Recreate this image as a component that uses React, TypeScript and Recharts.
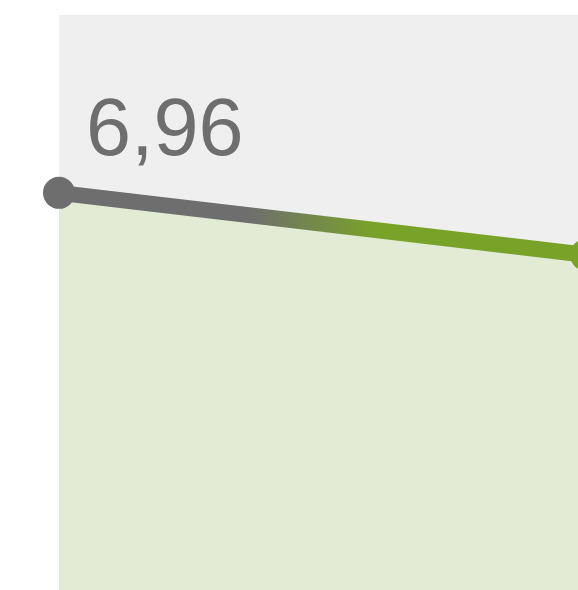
import React from "react";
import { ComposedChart, Area, Line, XAxis, YAxis, CartesianGrid } from "recharts";

const categories = ["A", "B"];
const values = [6.96, 5.9];
const labels = ["6,96", ""];

const data = categories.map((c, i) => ({ name: c, value: values[i], label: labels[i] }));

const GRAY = "#6e6e6e";
const GREEN = "#79a229";

const renderDot = (props: any) => {
  const { cx, cy, index } = props;
  return (
    <circle key={`dot-${index}`} cx={cx} cy={cy} r={16} fill={index === 0 ? GRAY : GREEN} />
  );
};

const renderLabel = (props: any) => {
  const { x, y, index, value } = props;
  if (!value) return null;
  return (
    <text
      key={`lbl-${index}`}
      x={x + 27}
      y={y - 38}
      fill={GRAY}
      fontSize={81}
      fontFamily="Liberation Sans, Arial, sans-serif"
    >
      {data[index].label}
    </text>
  );
};

export default function App() {
  return (
    <div
      style={{
        position: "fixed",
        left: 0,
        top: 0,
        width: 578,
        height: 590,
        overflow: "hidden",
        background: "#ffffff",
      }}
    >
      <ComposedChart
        width={620}
        height={600}
        data={data}
        margin={{ top: 15, right: 34, left: 59, bottom: 0 }}
      >
        <defs>
          <linearGradient id="lineGrad" x1="0" y1="0" x2="1" y2="0">
            <stop offset="36%" stopColor={GRAY} />
            <stop offset="60%" stopColor={GREEN} />
          </linearGradient>
        </defs>
        <CartesianGrid fill="#efefef" stroke="none" horizontal={false} vertical={false} />
        <XAxis dataKey="name" hide padding={{ left: 0, right: 0 }} />
        <YAxis hide domain={[0, 10]} />
        <Area
          type="linear"
          dataKey="value"
          stroke="none"
          fill="#e2ebd3"
          fillOpacity={1}
          isAnimationActive={false}
          dot={false}
          activeDot={false}
        />
        <Line
          type="linear"
          dataKey="value"
          stroke="url(#lineGrad)"
          strokeWidth={16}
          dot={renderDot}
          activeDot={false}
          isAnimationActive={false}
          label={renderLabel}
        />
      </ComposedChart>
    </div>
  );
}
